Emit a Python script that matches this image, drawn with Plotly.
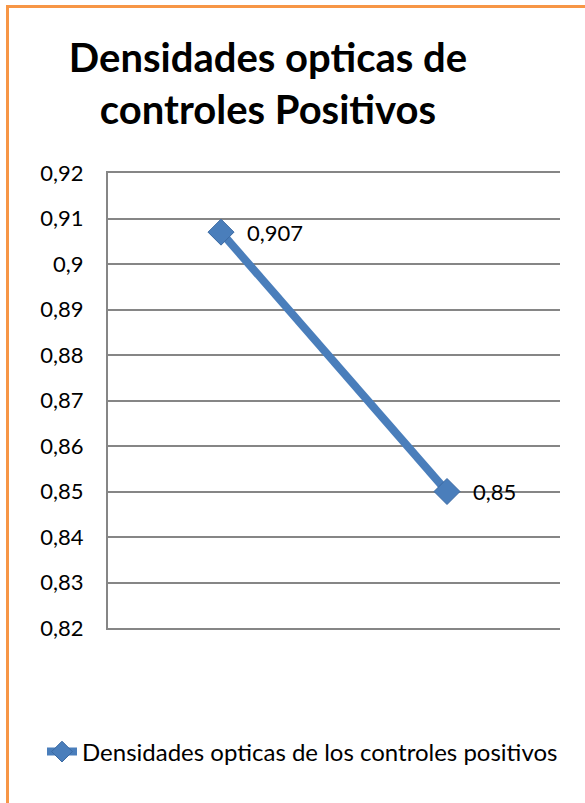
import plotly.graph_objects as go

categories = ["1", "2"]
values = [0.907, 0.85]
value_labels = ["0,907", "0,85"]
tick_values = [0.82, 0.83, 0.84, 0.85, 0.86, 0.87, 0.88, 0.89, 0.90, 0.91, 0.92]
tick_labels = ["0,82", "0,83", "0,84", "0,85", "0,86", "0,87", "0,88", "0,89", "0,9", "0,91", "0,92"]
series_name = "Densidades opticas de los controles positivos"
title_text = "Densidades opticas de<br>controles Positivos"

FONT = "Lato"
W, H = 585, 803
ML, MR, MT, MB = 108, 25, 173, 175
pw, ph = W - ML - MR, H - MT - MB

def px_x(x):
    return (x - ML) / pw

def px_y(y):
    return (H - MB - y) / ph

fig = go.Figure()
fig.add_trace(go.Scatter(
    x=list(range(len(categories))), y=values, mode="lines+markers",
    name=series_name,
    line=dict(color="#4A7EBB", width=8),
    marker=dict(symbol="diamond", size=20, color="#4A7EBB",
                line=dict(color="#3B6AA3", width=1)),
))

for i, (v, lab) in enumerate(zip(values, value_labels)):
    fig.add_annotation(x=i, y=v, text=lab, showarrow=False, xanchor="left",
                       yanchor="middle", xshift=24,
                       font=dict(family=FONT, size=22, color="#000000"))

# orange chart-area border (left and top edges visible in the crop)
fig.add_shape(type="line", xref="paper", yref="paper",
              x0=px_x(7.5), x1=px_x(7.5), y0=px_y(900), y1=px_y(6),
              line=dict(color="#F79646", width=3))
fig.add_shape(type="line", xref="paper", yref="paper",
              x0=px_x(6), x1=px_x(700), y0=px_y(6.5), y1=px_y(6.5),
              line=dict(color="#F79646", width=3))

fig.update_layout(
    width=W, height=H,
    margin=dict(l=ML, r=MR, t=MT, b=MB),
    paper_bgcolor="white", plot_bgcolor="white",
    title=dict(text=title_text, x=px_x(268), xref="paper", xanchor="center",
               y=1 - 72 / H, yanchor="top",
               font=dict(family=FONT, size=40, color="#000000", weight="bold")),
    showlegend=True,
    legend=dict(orientation="h", x=px_x(42), xanchor="left", y=px_y(752),
                yanchor="middle", font=dict(family=FONT, size=24, color="#000000"),
                bgcolor="rgba(0,0,0,0)"),
    xaxis=dict(range=[-0.5, len(categories) - 0.5], showgrid=False,
               zeroline=False, showticklabels=False, showline=True, mirror=True,
               linecolor="#868686", linewidth=2, ticks=""),
    yaxis=dict(range=[0.82, 0.92], tickvals=tick_values, ticktext=tick_labels,
               showgrid=True, gridcolor="#868686", gridwidth=2,
               zeroline=False, showline=True, linecolor="#868686", linewidth=2,
               ticks="", ticklabelstandoff=18,
               tickfont=dict(family=FONT, size=22, color="#000000")),
)

fig.write_html("out.html")
